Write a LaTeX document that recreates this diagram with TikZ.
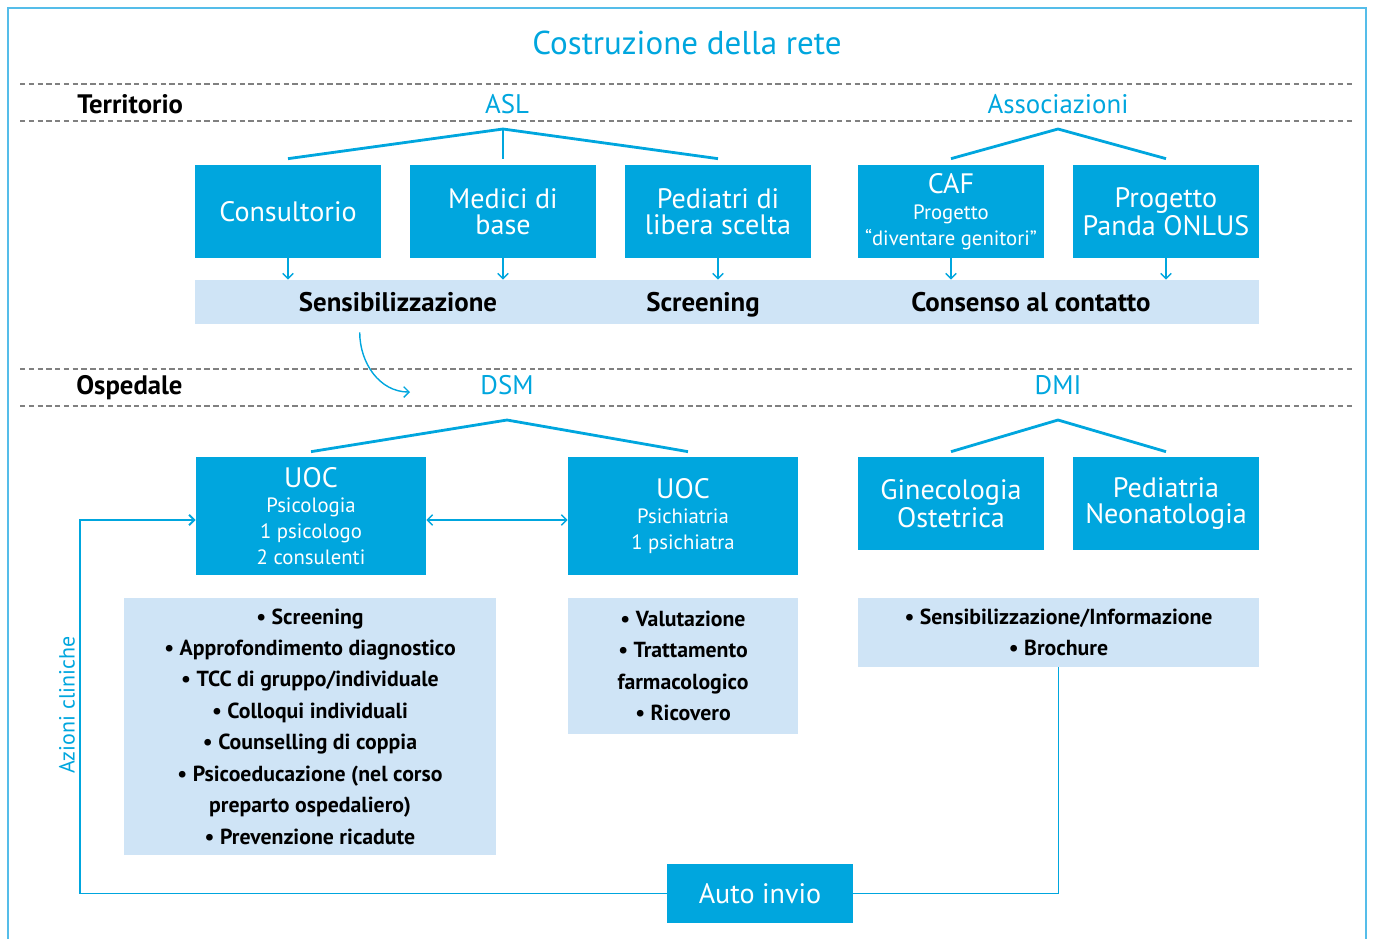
\documentclass[tikz,border=0pt]{standalone}
\usepackage{fontspec}
\setmainfont{PT Sans}
\usetikzlibrary{arrows.meta,calc}
\definecolor{blau}{HTML}{00A6DE}
\definecolor{hell}{HTML}{CFE4F6}
\definecolor{rahmen}{HTML}{55BDE9}
\newcommand\klein{\fontsize{11.8}{14.7}\selectfont}
\begin{document}
\begin{tikzpicture}[x=0.02cm,y=-0.02cm,
    kasten/.style={fill=blau,text=white,inner sep=0pt,align=center,minimum width=3.72cm,minimum height=1.86cm,font=\fontsize{16}{14.7}\selectfont},
    liste/.style={fill=hell,inner sep=0pt,align=center,font=\bfseries\fontsize{12.4}{17.9}\selectfont},
    ebene/.style={anchor=base west,inner sep=0pt,font=\bfseries\fontsize{15.2}{14}\selectfont},
    bereich/.style={anchor=base,text=blau,font=\fontsize{15.3}{14}\selectfont},
    marke/.style={anchor=base,font=\bfseries\fontsize{15.3}{14}\selectfont},
    trenn/.style={gray,line width=0.6pt,dash pattern=on 3pt off 2pt},
    ast/.style={blau,line width=1.6pt},
    pfeil/.style={blau,line width=0.8pt,-{Straight Barb[length=3pt,width=6pt]}}]
    \useasboundingbox (0,0) rectangle (1373,938);
    \draw[rahmen,line width=1.5pt] (8,950) -- (8,8) -- (1366,8) -- (1366,950);

    % Titel
    \node[anchor=base,text=blau,font=\fontsize{18.8}{18}\selectfont] (titel) at (687,54) {Costruzione della rete};

    % Territorio
    \draw[trenn] (20,84) -- (1355,84);
    \draw[trenn] (20,121) -- (1355,121);
    \node[ebene] (terr) at (77,113) {Territorio};
    \node[bereich] (asl) at (507,113) {ASL};
    \node[bereich] (ass) at (1058,113) {Associazioni};

    \node[kasten] (kons) at (288,211.5) {Consultorio};
    \node[kasten] (medici) at (503,211.5) {Medici di\\base};
    \node[kasten] (pediatri) at (718,211.5) {Pediatri di\\libera scelta};
    \node[kasten] (caf) at (951,211.5) {CAF\\{\klein Progetto}\\{\klein “diventare genitori”}};
    \node[kasten] (panda) at (1166,211.5) {Progetto\\Panda ONLUS};

    \coordinate (asl-ast) at (503,129);
    \coordinate (ass-ast) at (1058,129);
    \draw[ast] ($(kons.north)+(0,-6)$) -- (asl-ast) -- ($(pediatri.north)+(0,-6)$);
    \draw[ast] (asl-ast) -- ($(medici.north)+(0,-6)$);
    \draw[ast] ($(caf.north)+(0,-6)$) -- (ass-ast) -- ($(panda.north)+(0,-6)$);

    \node[fill=hell,minimum width=21.28cm,minimum height=0.88cm,inner sep=0pt] (band) at (727,302) {};
    \node[marke] (sens) at (398,311) {Sensibilizzazione};
    \node[marke] (scr) at (703,311) {Screening};
    \node[marke] (cons) at (1031,311) {Consenso al contatto};

    \foreach \k in {kons,medici,pediatri,caf,panda}
        \draw[pfeil] (\k.south) -- (\k.south |- band.north);

    % Ospedale
    \draw[trenn] (20,369) -- (1355,369);
    \draw[trenn] (20,406) -- (1355,406);
    \node[ebene] (osp) at (76,394) {Ospedale};
    \node[bereich] (dsm) at (507,394) {DSM};
    \node[bereich] (dmi) at (1058,394) {DMI};

    \coordinate (zu-dsm) at (410,392);
    \draw[pfeil] ([xshift=3.3cm,yshift=-0.16cm]band.south west) to[out=-90,in=180] (zu-dsm);

    \node[kasten,minimum width=4.6cm,minimum height=2.36cm] (psy) at (311,516)
        {UOC\\{\klein Psicologia}\\{\klein 1 psicologo}\\{\klein 2 consulenti}};
    \node[kasten,minimum width=4.6cm,minimum height=2.36cm] (psych) at (683,516)
        {UOC\\{\klein Psichiatria}\\{\klein 1 psichiatra}};
    \node[kasten] (gyn) at (951,503.5) {Ginecologia\\Ostetrica};
    \node[kasten] (ped) at (1166,503.5) {Pediatria\\Neonatologia};

    \coordinate (dsm-ast) at (507,420);
    \coordinate (dmi-ast) at (1058,420);
    \draw[ast] ($(psy.north)+(0,-5)$) -- (dsm-ast) -- ($(psych.north)+(5,-5)$);
    \draw[ast] ($(gyn.north)+(0,-5)$) -- (dmi-ast) -- ($(ped.north)+(0,-5)$);

    \draw[blau,line width=0.8pt,{Straight Barb[length=3pt,width=6pt]}-{Straight Barb[length=3pt,width=6pt]}] ([yshift=-0.08cm]psy.east) -- ([yshift=-0.08cm]psych.west);

    % Azioni cliniche
    \node[liste,minimum width=7.44cm,minimum height=5.14cm] (psyliste) at (310,726.5)
        {\textbullet\ Screening\\
         \textbullet\ Approfondimento diagnostico\\
         \textbullet\ TCC di gruppo/individuale\\
         \textbullet\ Colloqui individuali\\
         \textbullet\ Counselling di coppia\\
         \textbullet\ Psicoeducazione (nel corso\\
         preparto ospedaliero)\\
         \textbullet\ Prevenzione ricadute};
    \node[liste,minimum width=4.6cm,minimum height=2.72cm] (psychliste) at (683,666)
        {\textbullet\ Valutazione\\
         \textbullet\ Trattamento\\
         farmacologico\\
         \textbullet\ Ricovero};
    \node[liste,minimum width=8.02cm,minimum height=1.38cm] (dmiliste) at (1058.5,632.5)
        {\textbullet\ Sensibilizzazione/Informazione\\
         \textbullet\ Brochure};

    \node[kasten,minimum height=1.18cm] (auto) at (760,893.5) {Auto invio};
    \node[text=blau,rotate=90,font=\fontsize{12.5}{12}\selectfont] (azioni) at (67,705) {Azioni cliniche};

    \coordinate (ecke) at (80,520);
    \draw[pfeil,line width=1.1pt] (auto.west) -- (auto.west -| ecke) |- ([yshift=-0.08cm]psy.west);
    \draw[blau,line width=1.1pt] (dmiliste.south) |- (auto.east);
\end{tikzpicture}
\end{document}
